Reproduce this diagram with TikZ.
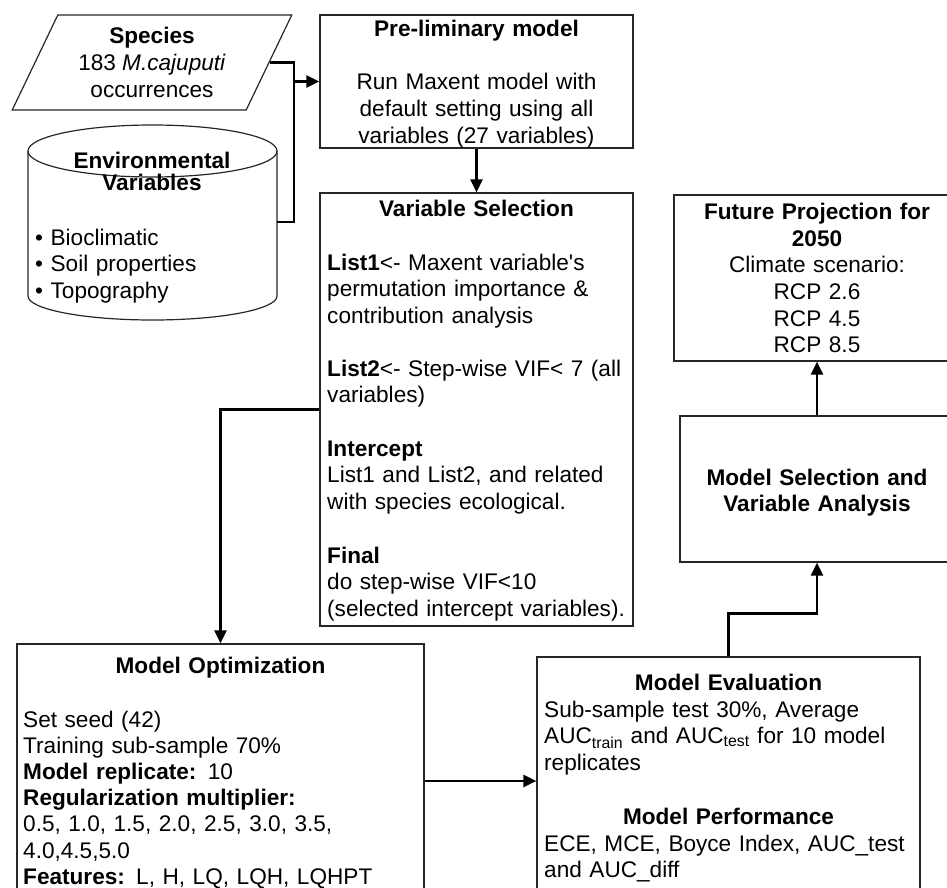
\documentclass[tikz,border=0pt]{standalone}
\usepackage{fontspec}
\setmainfont{Liberation Sans}
\usetikzlibrary{arrows.meta,shapes.geometric}

\begin{document}
\begin{tikzpicture}[x=1pt,y=-1pt,
  font=\fontsize{22.6}{26.7}\selectfont,
  box/.style={draw=black!85,line width=1.2pt,shape=rectangle,inner sep=0pt},
  body/.style={anchor=base west,align=left,text width=420pt,inner sep=0pt},
  mid/.style={anchor=base,align=center,text width=300pt,inner sep=0pt},
  head/.style={mid,font=\fontsize{22.6}{26.7}\selectfont\bfseries},
  arr/.style={line width=2.4pt,-{Triangle[length=13pt,width=12pt]}},
  lnk/.style={line width=2.4pt}]

\useasboundingbox (0,0) rectangle (947,888);
\clip (0,0) rectangle (947,888);

\node[box,trapezium,trapezium left angle=63,trapezium right angle=117,trapezium stretches=true,minimum width=280,minimum height=95,align=center] (species) at (152,62.5) {\textbf{Species}\\183 \textit{M.cajuputi}\\occurrences};

\draw[box] (28,151) -- (28,296) arc[start angle=180,end angle=0,x radius=124.5,y radius=24] -- (277,151);
\draw[box] (152.5,151) ellipse[x radius=124.5,y radius=26];
\coordinate (envvar) at (277,222);
\node[head,font=\fontsize{22.6}{22}\selectfont\bfseries] at (152,168) {Environmental\\Variables};
\node[body] at (35,245) {\textbullet\ Bioclimatic\\\textbullet\ Soil properties\\\textbullet\ Topography};

\node[box,minimum width=313,minimum height=133] (prelim) at (476.5,81.5) {};
\node[head] at (476.5,37) {Pre-liminary model};
\node[mid] at (476.5,90) {Run Maxent model with\\default setting using all\\variables (27 variables)};

\node[box,minimum width=313,minimum height=433] (varsel) at (476.5,409.5) {};
\node[head] at (476.5,216) {Variable Selection};
\node[body] at (327,270) {\textbf{List1}<- Maxent variable\textquotesingle s\\permutation importance \&\\contribution analysis};
\node[body] at (327,376) {\textbf{List2}<- Step-wise VIF< 7 (all\\variables)};
\node[body] at (327,456) {\textbf{Intercept}\\List1 and List2, and related\\with species ecological.};
\node[body] at (327,563) {\textbf{Final}\\do step-wise VIF<10\\(selected intercept variables).};

\node[box,minimum width=286,minimum height=166,align=center,text width=280pt] (fproj) at (817,278) {\textbf{Future Projection for}\\\textbf{2050}\\Climate scenario:\\RCP 2.6\\RCP 4.5\\RCP 8.5};

\node[box,minimum width=274,minimum height=146] (msel) at (817,489) {};
\node[head] at (817,485) {Model Selection and\\Variable Analysis};

\node[box,minimum width=407,minimum height=274] (mopt) at (220.5,781) {};
\node[head] at (220.5,673) {Model Optimization};
\node[body,font=\fontsize{22.6}{26.2}\selectfont] at (23,727) {Set seed (42)\\Training sub-sample 70\%\\\textbf{Model replicate:} 10\\\textbf{Regularization multiplier:}\\0.5, 1.0, 1.5, 2.0, 2.5, 3.0, 3.5,\\4.0,4.5,5.0\\\textbf{Features:} L, H, LQ, LQH, LQHPT};

\node[box,minimum width=383,minimum height=248] (meval) at (728.5,781) {};
\node[head] at (728.5,690) {Model Evaluation};
\node[body] at (544,717) {Sub-sample test 30\%, Average\\AUC\textsubscript{train} and AUC\textsubscript{test} for 10 model\\replicates};
\node[head] at (728.5,824) {Model Performance};
\node[body] at (544,851) {ECE, MCE, Boyce Index, AUC\_test\\and AUC\_diff};

\coordinate (join) at (294,0);
\draw[lnk] (species.east) -| (join |- envvar) -- (envvar);
\draw[arr] (join |- prelim.west) -- (prelim.west);
\draw[arr] (prelim.south) -- (varsel.north);
\draw[arr] (varsel.west) -| (mopt.north);
\draw[arr] (mopt.east) -- (meval.west);
\draw[arr] (meval.north) -- ++(0,-43) -| (msel.south);
\draw[arr] (msel.north) -- (fproj.south);

\end{tikzpicture}
\end{document}
